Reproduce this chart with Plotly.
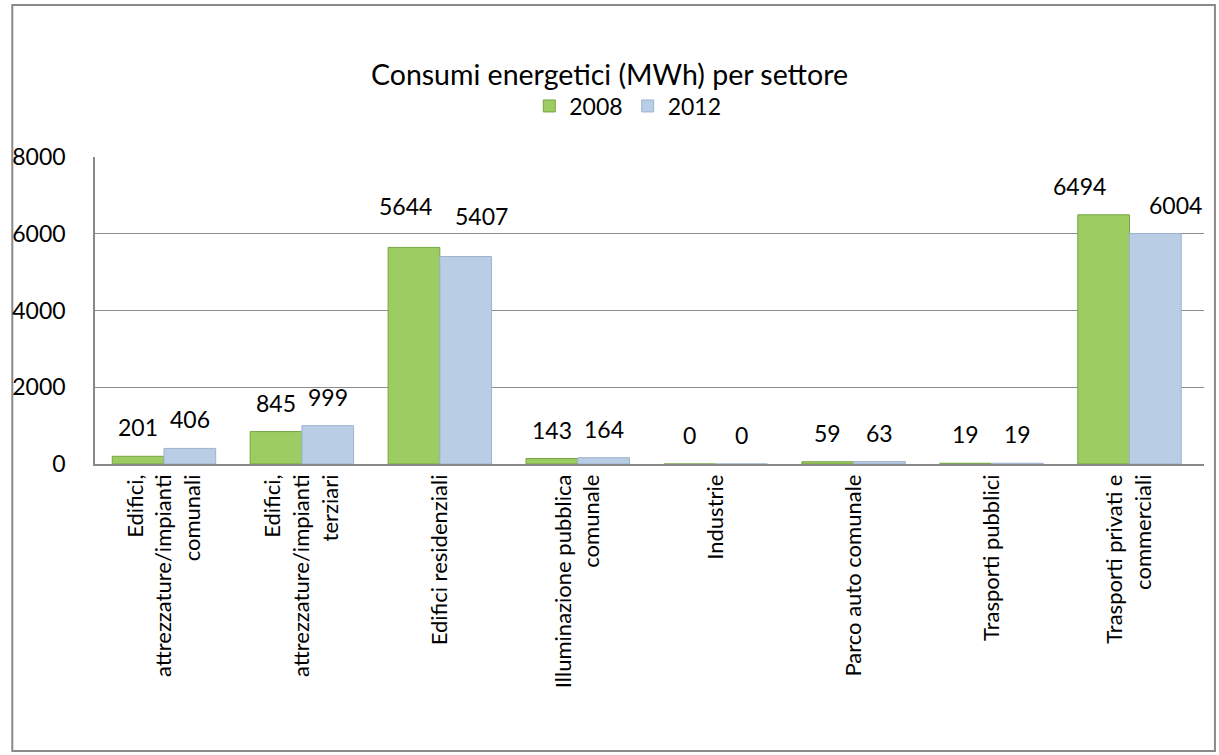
import plotly.graph_objects as go

categories = [
    "Edifici,<br>attrezzature/impianti<br>comunali",
    "Edifici,<br>attrezzature/impianti<br>terziari",
    "Edifici residenziali",
    "Illuminazione pubblica<br>comunale",
    "Industrie",
    "Parco auto comunale",
    "Trasporti pubblici",
    "Trasporti privati e<br>commerciali",
]
values_2008 = [201, 845, 5644, 143, 0, 59, 19, 6494]
values_2012 = [406, 999, 5407, 164, 0, 63, 19, 6004]
series_names = ["2008", "2012"]
y_ticks = [0, 2000, 4000, 6000, 8000]

# label placement tweaks (pixels), style only
label_dx_2008 = [0, 0, -8, 0, 0, 0, 0, -24]
label_dx_2012 = [0, 0, 16, 0, 0, 0, 0, 20]
label_dy_2008 = [0, 0, 12, 0, 0, 0, 0, 0]
label_dy_2012 = [0, 0, 12, 0, 0, 0, 0, 0]

FONT = "Lato, Open Sans, sans-serif"
GREEN = "#9ccc62"
GREEN_LINE = "#76a544"
BLUE = "#b9cde4"
BLUE_LINE = "#9db3cf"

fig = go.Figure()
fig.add_trace(go.Bar(name=series_names[0], x=categories, y=values_2008,
                     marker=dict(color=GREEN, line=dict(color=GREEN_LINE, width=1))))
fig.add_trace(go.Bar(name=series_names[1], x=categories, y=values_2012,
                     marker=dict(color=BLUE, line=dict(color=BLUE_LINE, width=1))))

annotations = []
for vals, shift, dxs, dys in ((values_2008, -26, label_dx_2008, label_dy_2008),
                              (values_2012, 26, label_dx_2012, label_dy_2012)):
    for c, v, dx, dy in zip(categories, vals, dxs, dys):
        annotations.append(dict(x=c, y=v, xref="x", yref="y", text=str(v),
                                showarrow=False, xshift=shift + dx, yshift=29 + dy,
                                yanchor="middle",
                                font=dict(family=FONT, size=23, color="#000")))

fig.update_layout(
    width=1219, height=755,
    paper_bgcolor="white", plot_bgcolor="white",
    margin=dict(l=91, r=15, t=157, b=291),
    barmode="group", bargap=0.25, bargroupgap=0,
    font=dict(family=FONT, color="#000"),
    title=dict(text="Consumi energetici (MWh) per settore", x=0.5, xref="container",
               xanchor="center", y=1 - 75 / 755, yref="container", yanchor="middle",
               font=dict(family=FONT, size=28.5, color="#000")),
    legend=dict(orientation="h", x=0.515, xref="container", xanchor="center",
                y=1 - 106 / 755, yref="container", yanchor="middle",
                font=dict(family=FONT, size=23, color="#000"),
                itemwidth=30, tracegroupgap=0),
    showlegend=True,
    annotations=annotations,
    shapes=[dict(type="rect", xref="paper", yref="paper",
                 x0=(8 - 91) / 1113, x1=(1215 - 91) / 1113,
                 y0=(464 - 751) / 307, y1=(464 - 5) / 307,
                 line=dict(color="#8a8a8a", width=2), layer="below")],
)
fig.update_xaxes(tickangle=-90, showline=True, linecolor="#888", linewidth=1.5,
                 showgrid=False, ticks="", tickfont=dict(family=FONT, size=22, color="#000"))
fig.update_yaxes(range=[0, 8000], tickvals=y_ticks, showline=True, linecolor="#888",
                 linewidth=1.5, gridcolor="#8c8c8c", gridwidth=1, zeroline=False,
                 ticks="", ticklabelstandoff=23,
                 tickfont=dict(family=FONT, size=23, color="#000"))

fig.write_html("out.html", config={"displayModeBar": False},
               post_script="document.body.style.margin='0';document.body.style.overflow='hidden';")
